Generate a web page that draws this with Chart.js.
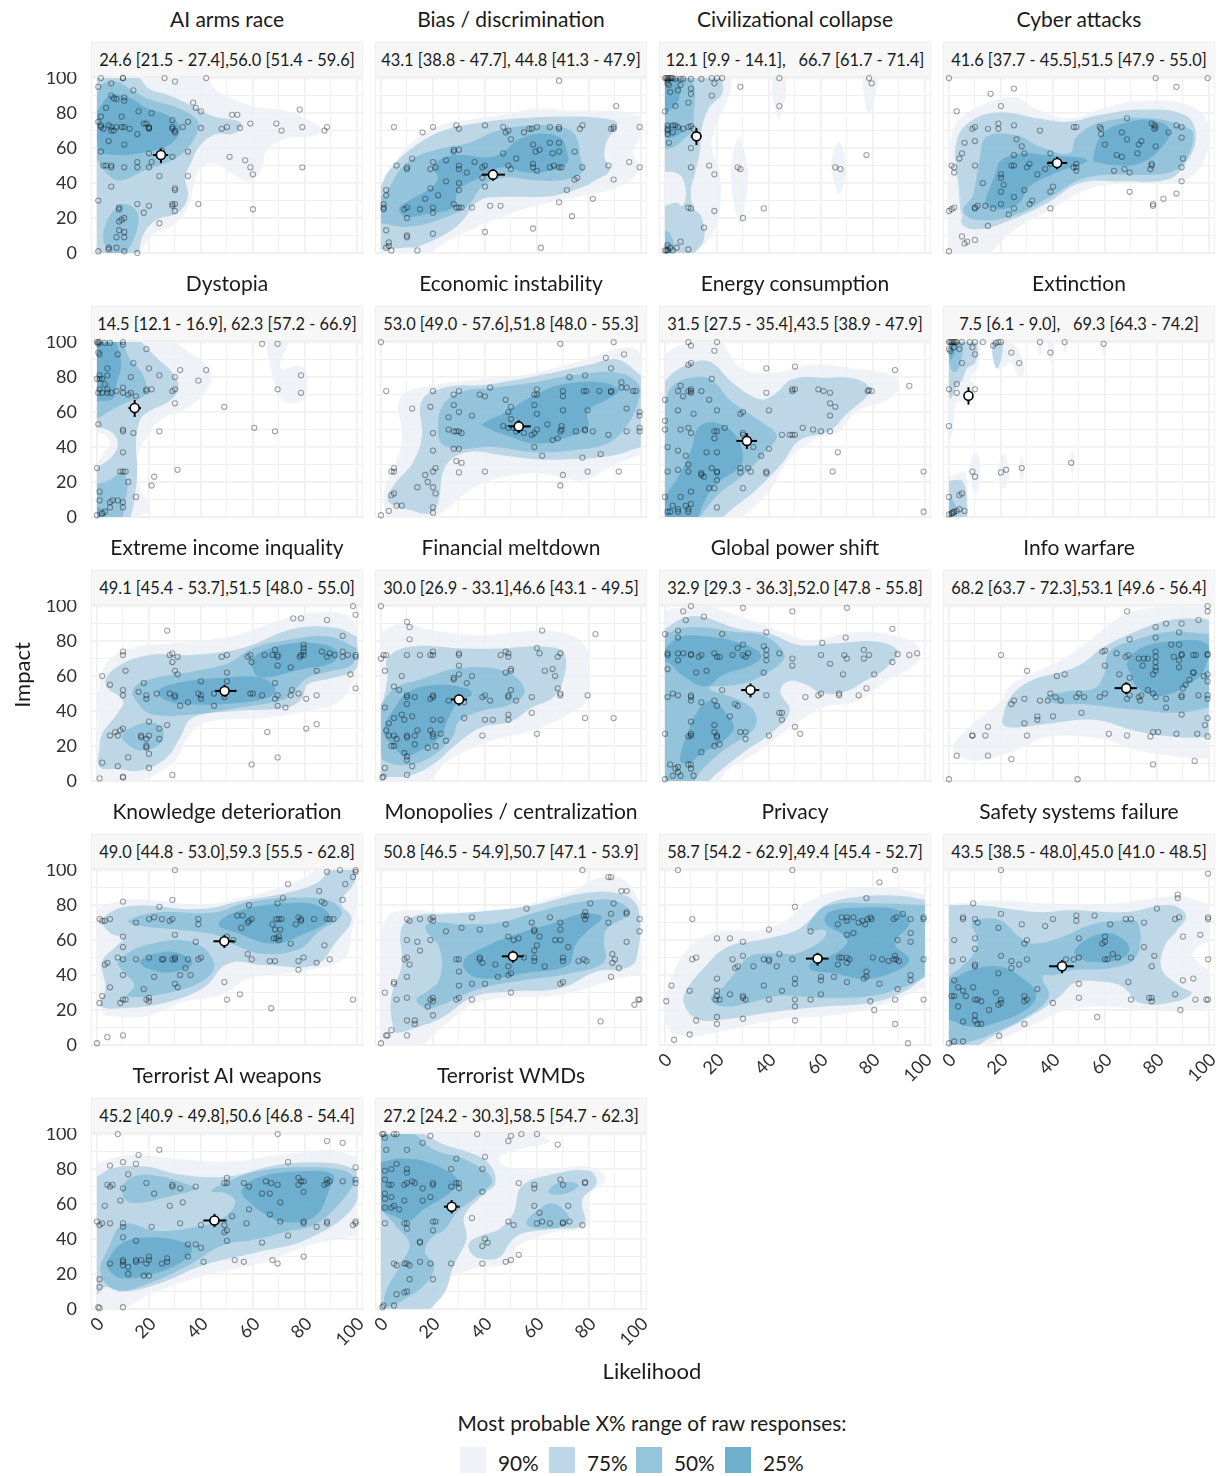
<!DOCTYPE html>
<html>
<head>
<meta charset="utf-8">
<title>Likelihood and impact of AI risks</title>
<script src="https://cdn.jsdelivr.net/npm/chart.js@4/dist/chart.umd.min.js"></script>
<style>
  html, body { margin: 0; background: #fff; }
  #page { position: relative; width: 1222px; height: 1476px; overflow: hidden; font-family: Lato, sans-serif; color: #1a1a1a; }
  #page div, #page canvas { position: absolute; }
  .title { text-align: center; font-size: 21px; line-height: 26px; white-space: nowrap; }
  .strip { background: #f7f7f7; border: 1px solid #f0f0f0; box-sizing: border-box; text-align: center; font-size: 16.4px; line-height: 33px; white-space: pre; }
  .frame { border: 1px solid #f0f0f0; box-sizing: border-box; background: #fff; }
  .axis { font-size: 22px; text-align: center; white-space: nowrap; }
  .legend { font-size: 20.8px; white-space: nowrap; }
  .swatch { width: 26px; height: 26px; }
</style>
</head>
<body>
<div id="page"></div>
<script>
// Panels, in reading order
const categories = ['AI arms race', 'Bias / discrimination', 'Civilizational collapse', 'Cyber attacks',
  'Dystopia', 'Economic instability', 'Energy consumption', 'Extinction',
  'Extreme income inquality', 'Financial meltdown', 'Global power shift', 'Info warfare',
  'Knowledge deterioration', 'Monopolies / centralization', 'Privacy', 'Safety systems failure',
  'Terrorist AI weapons', 'Terrorist WMDs'];

const stripLabels = ['24.6 [21.5 - 27.4],56.0 [51.4 - 59.6]', '43.1 [38.8 - 47.7], 44.8 [41.3 - 47.9]', '12.1 [9.9 - 14.1],   66.7 [61.7 - 71.4]', '41.6 [37.7 - 45.5],51.5 [47.9 - 55.0]',
  '14.5 [12.1 - 16.9], 62.3 [57.2 - 66.9]', '53.0 [49.0 - 57.6],51.8 [48.0 - 55.3]', '31.5 [27.5 - 35.4],43.5 [38.9 - 47.9]', '7.5 [6.1 - 9.0],   69.3 [64.3 - 74.2]',
  '49.1 [45.4 - 53.7],51.5 [48.0 - 55.0]', '30.0 [26.9 - 33.1],46.6 [43.1 - 49.5]', '32.9 [29.3 - 36.3],52.0 [47.8 - 55.8]', '68.2 [63.7 - 72.3],53.1 [49.6 - 56.4]',
  '49.0 [44.8 - 53.0],59.3 [55.5 - 62.8]', '50.8 [46.5 - 54.9],50.7 [47.1 - 53.9]', '58.7 [54.2 - 62.9],49.4 [45.4 - 52.7]', '43.5 [38.5 - 48.0],45.0 [41.0 - 48.5]',
  '45.2 [40.9 - 49.8],50.6 [46.8 - 54.4]', '27.2 [24.2 - 30.3],58.5 [54.7 - 62.3]'];

const meanLikelihood = [24.6, 43.1, 12.1, 41.6, 14.5, 53.0, 31.5, 7.5, 49.1, 30.0, 32.9, 68.2, 49.0, 50.8, 58.7, 43.5, 45.2, 27.2];
const lowLikelihood = [21.5, 38.8, 9.9, 37.7, 12.1, 49.0, 27.5, 6.1, 45.4, 26.9, 29.3, 63.7, 44.8, 46.5, 54.2, 38.5, 40.9, 24.2];
const highLikelihood = [27.4, 47.7, 14.1, 45.5, 16.9, 57.6, 35.4, 9.0, 53.7, 33.1, 36.3, 72.3, 53.0, 54.9, 62.9, 48.0, 49.8, 30.3];
const meanImpact = [56.0, 44.8, 66.7, 51.5, 62.3, 51.8, 43.5, 69.3, 51.5, 46.6, 52.0, 53.1, 59.3, 50.7, 49.4, 45.0, 50.6, 58.5];
const lowImpact = [51.4, 41.3, 61.7, 47.9, 57.2, 48.0, 38.9, 64.3, 48.0, 43.1, 47.8, 49.6, 55.5, 47.1, 45.4, 41.0, 46.8, 54.7];
const highImpact = [59.6, 47.9, 71.4, 55.0, 66.9, 55.3, 47.9, 74.2, 55.0, 49.5, 55.8, 56.4, 62.8, 53.9, 52.7, 48.5, 54.4, 62.3];

const tickValues = [0, 10, 20, 30, 40, 50, 60, 70, 80, 90, 100];
const legendLabels = ['90%', '75%', '50%', '25%'];

// Raw responses per panel: likelihood, impact, likelihood, impact...
const responses = [
[.5,95,1.5,100,10,100,10,100,5.5,97,26,100,30,98,42,100,14,93,5.5,90,6.5,88.5,7.5,88,10.5,89,10.5,87,3.5,83,16,81,21,80,37,86,38,83,40,81,52,79,54,79,78,82,1.5,78,9.5,78,.5,75,1.5,73,1.5,72,2.5,71,4.5,73,5.5,72,7.5,72,9.5,72,10.5,72,12.5,71,5.5,70,6.5,70,15.5,68,18,74,19,74,20,72,20,71.5,20,71,29,76,29,72,29,71,30,70,30,69,33,72,35,75,40,71.5,48,71,50,72,55,71.5,59,74,69,74,71,70,79,72,87.5,70,88.5,72,4.5,64,10.5,62,1.5,58,20,57,25,58.5,29,55,35,58,51,55,57,53,59,49,60,45,79,49,15.5,52,15.5,49,21,52,20,49,2.5,50,3.5,50,5.5,50,5.5,49,10.5,49,24,44,35,44,5.5,38,30,37,30,36,.5,30,15.5,28,20,27,29,28,30,28,29,27,39,28,30,24,18,23,60,25,24,17,8.5,26,8.5,25,10.5,20,9.5,19,8.5,18,8.5,13,10.5,12,7.5,9,10.5,9,7.5,3,4.5,3,4.5,2,.5,1,10.5,1,15.5,0],
[68.5,98.5,90.5,84,5,72,16,69,20,72,29,73,30,71,40,73,47,72,48,69,49,70,55,69,57,71,58,71,60,72,65,72,68.5,72,68.5,71,76.5,71,77.5,73,88.5,71,89.5,72,89.5,71,99.5,72,50,65,58.5,62,65,63,68.5,63,59.5,58,61,59,66,57,68.5,58,74.5,58,28,59,28,58,30,59,47,57,52,54,12,54,20,52,25,53,36,52,6,50,10,49,10,48,19,48,21,49,30,50,30,48,33,46,39,49,40,50,49,50,50,48,58.5,51,58.5,49,60,47,65,49,66.5,50,68.5,49,69.5,49,77.5,49,87.5,50,95.5,52,99.5,49,25,41,30,40,39,43,40,38,30,36,19,37,74.5,42,75.5,43,89.5,42,71.5,36,22,33,17,31,68.5,29,81.5,31,2,36,2,33,1,28,1,26,1,25,9,25,10,26,15,25,20,26,20,23,28,28,29,26,30,26,31,26,35,26,42,27,46,27,10,20,73.5,21,2,13,10,10,10,9,20,11,40,12,58.5,14,3,6,3,4,2,3,4,1.5,14,1.5,61.5,3],
[0,100,.5,100,1,100,1.5,100,2,100,2.5,100,3,100,1,99,1,97,1.5,96,4,99.5,6,99.5,7,99.5,10,99.5,14,99.5,18,100,20,100,22,100,19,97,29,95,44,100,44,84,78.5,100,79.5,97,2,92,5,93,6,96,10,94,10,91,18,90,9,86,4,84,0,81,1,73,1,71,1,70,1,68,3,73,4,73,5,72,7,71,9,72,10,72.5,11,71,3,69,1.5,63,10,60,10,49,17,50,19,45,28,49,29,48,65.5,49,67.5,48,77.5,56,9,26,10,25.5,19,24,30,20,38,25.5,15,14.5,6,6.5,4.5,3,2,3,.5,1.5,0,1.5,1,1.5,3,1.5,9,2,1,4.5],
[0,100,79.5,100,99.5,100,87.5,95,25,94,16,91,20,84,3,81,10,72,9,71,15,71,19,74,19,71,25,73,35,70,48,72,49,72,58,72,58.5,71,68.5,77,66.5,69,78,74,79,73,79.5,72,79,71,84.5,69,87.5,73,89.5,72,89.5,66,58.5,68,68.5,65,60,62,74,64,73,62,79.5,61,72.5,57,64.5,56,66.5,55,90,54,26,65,10,64,6,63,28,61,29,57,25,56,5,57,4,54,1,50,2,49,2,46,10,50,24,50,25,50,30,49,31,51,39,57,39,51,37,48,34,45,20,45,20,43,21,39,13,40,40,38,39,35,29,36,20,35,25,32,49,51,49,49,48,49,49,47,63.5,47,67.5,48,69.5,46,78,50,78,51,77.5,48,89.5,49,89.5,41,69.5,35,87.5,34,82.5,31,78.5,28,78.5,27,32,30,31,28,25,25.5,23,22,20,28,17,25.5,14,27,11,27,10,26,10,25.5,2,26,1,25,0,24,39,25.5,15,15.5,5,9.5,7,6.5,6,5.5,10,7.5,0,1],
[0,100,.5,100,1,100,.5,99,3,99.5,5,99.5,10,100,10,98.5,19,96,63.5,99,69.5,99,.5,94,1,93,8,93,14,88,4,85,20,85,32,84,42,84,24,81,30,80,78.5,81,39,78,13,80,1,81,1,79,4,81,0,79,2,79,3,76,4,73,1,73,.5,71,2,71,4,71,5.5,71,7.5,72,10,74,10,71,12,70,13,71,15,69,19,73,19,72,21,73,29,72,30,73,30,65,69.5,73,78.5,71,49,63,.5,53,10,50,10,49,14,48,24,49,60.5,51,68.5,49,10,37,0,28,9,26,10,26,11,26,12,20,22,23,31,27,21,18,15,11.5,1,14.5,1,9.5,5,8.5,6,9.5,8,9.5,10,8.5,5,5.5,10,5.5,3,3,2,2,0,1],
[0,100,69,99,89.5,100,93.5,93,86.5,91,88.5,85,78.5,81,72.5,80,92.5,77,94.5,74,92.5,74,97,72,98,72,2,72,20,72,28,70,30,72,38,70,40,69,42,74,48,67,60,73,60,70,59,70,70,72,70,69,78,72,79,72,84,72,88.5,72,88.5,71.5,50,63,59,64,12,62,19,63,28,64,30,60,26,57,35,58,49,60,50,56,60,59,70,61,79.5,61,94.5,62,99.5,60,99.5,58,99.5,51,99.5,49,94.5,49,87.5,47,81.5,49,78.5,50,78.5,49.5,75,49,69.5,52,69.5,50,69,49,64,53,60,50,59,48,58,47,55,48,52,49,51,51,49,51,47,52,20,48,26,50,28,49,29,49,30,49,31,48,66,44,68,45,59,40,28,39,30,39,20,38,62,35,77.5,34,84.5,36,29,32,31,31,30,25.5,21,28,20,26,5,28,5,26,4,26,40,26,17,24,18,20,70,24,79.5,26,91.5,26,69,18,14,17,20,17,21,13.5,5,13.5,4,12.5,6,6.5,8,6.5,20,5.5,20,2.5,3,3.5,0,1],
[9,100,10,98,20,100,19,95,9,87,10,88,39,85,50,86,88.5,84,18,79,94,75,6,75,5,72,9,72,10,73,10,71,10,72,14,72,7,69,0,67,17,67,39,71,49,73,50,73,49,72,59,73,61,72,63.5,71,78,72,78.5,72.5,79.5,72,63.5,65,65.5,63,63.5,58,29,59,30,60,40,61,20,61,5,61,11,59,0,55,0,50,6,50,9,51,10,48,19,49,20,49,23,51,19,45,30,48,30,47,45,47,48,47,49,47,50,47,53,51,57,50,60,49,63.5,49,34,40,40,39,37,35,66.5,37,1,40,5,38,16,37,20,37,8,35,9,30,9,26,5,27,1,26,18,28,20,26,20,25.5,29,28,29,25.5,32,28,33,26,39,26,39,25,64.5,26,99.5,26,14,25,15,23,14,24,20,21,17,16.5,19,16.5,30,16.5,10,14.5,0,11.5,6,11.5,3,6.5,8,6.5,10,7.5,9,4.5,20,5.5,1,3,2,3,5,4.5,5,3,9,3,99.5,3],
[0,100,.5,100,1,100,1.5,100,2,100,2.5,100,3,100,5,100,8,100,10,100,13,100,18,99.5,19,100,20,100,17,98,0,96,.5,95,2,97,4,96,9,97,10,93,5,88,24,94,27,88,35,100,39,94,44.5,100,59.5,99,3,76,0,73,3,71,10,73,0,52,9,26,10,23,20,25.5,22,27,28,28,47,31,0,11.5,4,12.5,5,13.5,4,4.5,6,3.5,3,3.5,2,3,1,2,0,1.5,1.5,2.5],
[98.5,100,99.5,95,75.5,93,78.5,93,88.5,92,27,86,94.5,83,79.5,78,79.5,76,79.5,74,10,74,10,72,28,72,29,73,31,71,29,68,48,71,50,72,58,71,59,72,59.5,68,64.5,72,67.5,72,68.5,75,69.5,72,69.5,71,78,71,78.5,72,79.5,72,86.5,74,88.5,71,89.5,73,91.5,72,94.5,74,94.5,71,96.5,72,99.5,72,99.5,71,69.5,66,74.5,65,84.5,63,97.5,61,99.5,53,11,63,2,60,30,63,31,61,50,62,50,57,40,57,5,55,18,56,68.5,56,10,52,10,49,16,51,19,49,19,47,23,50,28,50,30,49,30,48,39,50,40,49,40,47,45,50,49,50,49,48,59,50,60,50,63.5,49,69.5,49,68.5,47,75,52,74.5,49,77.5,50,80.5,47,84.5,49,32,43,35,45,45,43,69.5,43,72.5,42,20,34,27,32,24,30,10,30,9,29,7,28,8,26,5,26,17,26,17,25,20,26,19,24,24,24,19,20,19,19,20,15.5,12,13.5,2,10.5,8,8.5,20,7.5,1,1.5,10,2.5,10,2,29,3.5,65.5,28,80.5,30,84.5,32.5,69.5,13.5,59.5,9.5],
[0,100,10,91,11,88,11,81,62,86,82.5,84,20,74,20,72,19,72,2,72,1,72,0,70,10,72,15,72,30,73,30,72,46,72,48,74,49,73,49,71,60,76,61,73,69,73,68,71,1.5,63,8,60,30,66,30,61,28,59,28,58,35,60,33,56,50,64,50,63,48,62,63,63,66,64,67,60,68,53,5,54,7,52,10,49,10,48,13,48,10,44,20,49,20,48,19,47,26,46,30,47,30,46,32,45,39,48,40,49,42,46,49,49,49,48,50,52,52,46,58,48,69,50,69,49,79.5,49,1.5,42,8,38,12,37,3,33,5,36,9,35,20,35,23,35,32,36,40,35,43,35,49,38,49,35,58,39,78.5,36,89.5,36,2,29,3,26,5,26,6,24,10,26,10,25,14,29,13,26,19,29,20,27,20,25.5,23,27,25,23,13,21,4,20,5,20,18,19,21,20,9,16,10,14,10,12,39,26,60,27,12,8.5,1.5,7.5,1,2.5,.5,2,10,3.5],
[10,100,7,97,30,99,49,97,70,99,15,94,8,92,87.5,87,5,86,0,84,5,82,22,84,39,85,60.5,79,69.5,82,30,78,28,76,38,77,39,75,39,72,39,69,1,73,1,72,5,73,7,73,5,69,10,72.5,10,72,13,71,14,72,19,73,20,71,21,71,26,72,30,72,31,71,32,73,44,73,49,70,49,66,60,72,69,72,70,70,63.5,67,76.5,75,76.5,70,78.5,72,89.5,72.5,87.5,68,94,72,97,73,1,64,12,62,16,63,38,62,68.5,61,80.5,61,77.5,53,22,52,1,48,3,50,5,49,10,49,10,48,10,46,14,45,19,46,20,43,27,44,28,43,39,49,54,48,59,49,60,50,67,50,67,49,74.5,49,44,39,45,39,25,37,45,35,10,34,19,32,0,27,10,27,10,26,9,25.5,19,28,20,26,20,25,29,28,31,28,31,24,40,26,50,31,52,27,19,20,21,21,14,16.5,9,9.5,10,9.5,10,7,2,9.5,4,7,5,8,5,5,6,3,3,3,11,3,0,1],
[68.5,97,99.5,100,99.5,97,96,92,79.5,88,83.5,90,89.5,90,88.5,85,69.5,81,79.5,82,85.5,78,88.5,78,20,72,59,74,60,74.5,64.5,73,68,71,69,72,73,70,75,70,79.5,74,79.5,71,79.5,68,79.5,65,79.5,63,76.5,70,86.5,71,88.5,69,89.5,72.5,89.5,72,94,72,95,72,99.5,72.5,99.5,72,60,66,74.5,66,88.5,65,94,62,94,62,30,63,41.5,60,44.5,61,65.5,61,69.5,59,78.5,61,92.5,58,98,60,99.5,61,99.5,57,91,55,90,53,76.5,52,25,46,29,47,35,46,38,46,39,50,41,48,43,46,49,48,50,50,52,48,58,48,60,50,68.5,47,69.5,49,73,48,74,49,73.5,46,78.5,50,79.5,48,83.5,47,89.5,49,89.5,48,96,49,99.5,49,99.5,47,24,44,83.5,42,51,39,40,37,34,37,34,35,29,33,15,31,89.5,38,99.5,36,98.5,32,9,26,9,26,14,26,30,26,61.5,27,68.5,26,78.5,28,80.5,28,77.5,25.5,87.5,27,95.5,27,99.5,25.5,3,14.5,15,14.5,24,12.5,78.5,9.5,94.5,11.5,0,1,49.5,1],
[30,100,88.5,99,93.5,100,99.5,99,99.5,100,98.5,96,95.5,92,73.5,92,85.5,88,10,82,29,83,71.5,84,86.5,82,87.5,81,94.5,83,69.5,81,58.5,80,24,79,1,72,2,71,3,71,5,72,15,70,20,72,22,73,25,72,28,71,29,72,39,72,39,69,54,74,56,74,58,70,58.5,71,59.5,72,55.5,67,67.5,69,69,72,70,72,71,72,68.5,66,70.5,66,77.5,73,78.5,72,78.5,71,76.5,69,83.5,72,88.5,72,89.5,72,91,72,68,61,69,61,70,62,70,60,74.5,58,30,63,10,62,50,62,52.5,60,38,59,10,56,87.5,57,8,50,10,49,15,49,20,50,25,49,25.5,49,29,49,30,50,30,49,35,49,39,49,40,50,3,46,4,47,34,44,10,40,22,39,32,40,36,40,58,52,59.5,49,66.5,48,68.5,48,77.5,48,79.5,50,84.5,47,89.5,49,77.5,43,5,33,18,32,30,35,31,33,49,36,55,29,2,28,1,24,9,24,10,26,11,26,19,26,20,27,20,25,50,26,67,21,98.5,26,4,4.5,10,5.5,0,1],
[77.5,100,87.5,96,88.5,96,92.5,88,94.5,88,80.5,81,89.5,81,56,78,78.5,76,78,74,79,74,78.5,72,88.5,75,94.5,76,94.5,75,10,72,11,71,15,72,19,72,20,73,20,71,35,73,48,69,58,70,65,73,69,70,87.5,70,99.5,72,99.5,65,25,65,31,67,38,66,59,66,59,65,69,66,61,62,49,62,51,60,53,61,67,60,69,60,60,57,59,54,72,56,94.5,59,10,60,14,59,19,60,15,54,9,49,10,50,11,46,29,49,30,49,38,50,38,49,39,47,44,46,50,50,49,45,55,50,59,50,59,48,70,50,70,48,76,48,78,49,79,48,89,52,89,47,90,49,91.5,44,30,42,63,45,49,40,50,41,45,39,88.5,39,10,39,5,36,5,35,30,34,35,35,40,35,69,35,70,36,1.5,30,6,26,10,27,19,26,20,27,20,25,29,26,30,27,35,26,50,30,18,22,20,17,99.5,26,99,26,97.5,23,10,14,13,14,13,12,84.5,13.5,4,8.5,2,5.5,2.5,5.5,10,5.5,0,1],
[5,100,49,100,88.5,100,82.5,93,77.5,84,50,79,10.5,72,68,73,70,73,70,71,72.5,73,76,71,78,72,79,73,79.5,72,66.5,69,74.5,70,77,69,88,72,89,73,91.5,75,94.5,72,99.5,73,99.5,72,40,66,56,65,70,63,72.5,64,94.5,64,94.5,59,89.5,60,20,61,25,61,30,59,10.5,49,12,50,26,49,30,51,28,45,27,44,34,45,38,49,40,49,40,48,44,52,43,45,49,49,59,49,67,50,68,50,70,50,71,49,70,47,66.5,46,80,50,83.5,49,86,48,88,49,88.5,51,89,49,90,48,99.5,49,60,39,60,37,65,39,70,36,77.5,42,77.5,39,76.5,38,82.5,35,94.5,40,94.5,37,2.5,34,20,38,50,38,50,35,38,34,45,31,9.5,31,20,31,20,28,19.5,26,21,26,25,29,30,28,30,27,31,26,40,26,50,26,50,22,56,26,60,29,89.5,32,88.5,26,79,25,99.5,26,.5,25,80.5,20,20,16,20,12,12,14,30,15,50,14,88.5,12,9.5,6,3.5,3,93.5,1],
[20,100,99.7,98,88,86,88,84,9.3,81,80,78,5.4,73,5.4,72,10,72,11,70,20,75,40,72,49,74,49,71,56,74,28,69,37,68,62,69,68,72,70,72,75,70,87,72,88.5,73,99.7,73,99.7,72,19,67,96.7,63,90,62,2,60,10,61,30,60,29,58,50,61,60,62,60,59,59,58,10,55,75,56,20,51,79,51,5.4,49,1.3,48,10,46,10,45,24,48,30,49,27,46,24,44,45,49,48,49,50,50,60,49,61,49,63,52,65,50,70,50,78,45,99.7,49,19,41,2,37,90,37,94,38,69,36,50,35,3.5,33,5.4,31,6.5,28,9.3,33,1,28,2,28,10,26,11,26,12.4,25,18,30,20,26,20,24,19,23,29,28,30,26,29,25,34,32,40,24,50,27,70,26,77,27,78,27,78,25,87,29,94.8,26,99.7,26,99,26,3.5,22,15.4,20,89,20,10,17,10,14,11,12,12.4,12,5.4,13.4,29,12,57,16,19.3,5.3,0,1,2,2,5.4,2],
[8,100,69.5,100,88.5,96,94.5,95,24,91,16,88,10,84,15,83,5,82,73.5,84,99.5,81,12,77,50,75,4,71,6,71,5,70,10,69,19,72,29,71,29,70,32,69,38,70,49,72,50,72,56.5,72,58.5,70,65,73,67,72,69.5,71,77.5,75,78.5,73,77.5,71,79.5,73,87.5,71,88.5,74,88.5,72,89.5,73,94.5,73,99.5,74,99.5,72,22,66,63.5,66,66.5,66,79.5,67,9,62,3,59,28,59,33,61,70.5,61,58.5,57,66.5,54,52,53,0,50,1,48,2,49,5,49,10,49,10,47,21,47,32,49,40,48,49,48,50,45,49,44,57.5,49,70.5,50,79.5,50,79.5,49,84.5,47,88.5,50,88.5,49,98.5,48,99.5,50,99.5,49,73.5,42,10,41,15,39,35,37,38,37,40,35,50,39,63.5,38,20,30,20,28,27,29,27,27,35,30,15,28,17,28,15,27,10,28,10,27,10,25,5,26,19,26,25,26,12,24,12,20,18,19,20,19,41,27,53,28,56.5,27,67.5,28,69.5,26,79.5,30,1,17,1,12.5,.5,1,1,.5,10,1],
[.5,100,1,100,5,100,6,100,1.5,98,19,99,16,95,37,100,50,99,49,96,54,100,60,100,68,94,2,91,10,91,29,86,40,87,6,83,4,80,1.5,79,10,80,10,78,27,80,39,80,1.5,74,4,71,3,71,9,71,10,72,12,73,13,72,16,69,20,72,20,71,27,70,29,72,30,72,30,69,39,67,53,72,59,71,59,69,69,74,70,71,78.5,72.5,78.5,72,1.5,66,4,64,1.5,63,9,62,16,62,19,64,4,58,5,59,7,57,1.5,58,59,59,72,59,61,55,1.5,49,9,49,10,49,10,46,20,50,21,50,20,45,35,52,49,50,51,48,60,49,62,50,65,49,70,49,70,49.5,72.5,50,77.5,48,15,38,15,38.5,40,40,41,38,39,36,53,31,50,28,48,27,5,26,6,25,9,26,10,26,11,25,15,27,19,26,27,26,39,26,11,17,20,17,10,10,9,9.5,6,8.5,.5,1,1,2,5,2]
];

// Density regions per panel, one or more closed outlines each, outlined by eye
const band90 = [
[[-1,-1,-1,101,42,101,47,92,60,84,73,81,84.5,73.5,86,70,83,67,72,65,65,58,64,51,61,43,58,41,52.5,45,45,51,40,49,37,38,36,30,30.5,17,22,11,18,4,16.5,-1]],
[[-1,-1,-1,38,8.5,58,21,72,34,76,47,79,59,82.5,73,81.5,91,81,101,78,101,66,97,58,101,49,96,41.5,85.5,35,75,32,62.5,28,49.5,22.5,37,15,24,5.5,19,-1]],
[[-1,-1,-1,101,26,101,24.5,89,20,74,18,61,21,45.7,21.5,36,20.5,19,17,8,11.5,-1],[41.5,101,46.5,101,46.5,90,45,82,44,76,42.5,82,41,92],[76,101,82,101,81,90,79,80,78,80,76.5,90],[28.5,66,31,55,32,42,30.5,25,29,16,27,25,25.5,42,26,55],[67,63.5,69.5,52,69,41,67,33.5,65,41,64,52]],
[[-1,19,.5,45,2,72,12,84,25.5,89,32.5,83,46,77,60,83,74,87,91,85,99,76,101,60,95,45.7,86.5,40,68.6,40,53,36,39.5,25,25.5,13.6,18.6,4,16,-1,-1,-1]],
[[-1,-1,-1,31,3.3,38,5,42,3.3,46.6,-1,48.5,-1,101,30,101,36.5,93,43,85,43.5,76,37,64.5,24,55,18.6,44,16,36,16,19,20,4,14.5,-1],[65,101,74,101,70.7,89,71,85,79,86,81,76,78.5,66.4,71.5,66.4,68,78.7,66,91]],
[[1,13.6,5.3,28.7,8,45.7,7.4,68.3,19,75,38.6,78.7,59.5,82.5,77.5,89.7,90,95.7,97,96.6,101,93,101,36,91,30.6,77.5,21,69,23,58,25,38.6,19,24.7,4,21,-1,2,-1]],
[[-1,-1,-1,93,4.5,97.5,11.5,101,22,101,29.5,85,43,82.5,56,87,72.5,85,88,80.5,90.3,74,85,66.4,74,60.7,67,49,57,43.8,47.5,32.5,40.5,15.5,30,-1]],
[[-1,101,12.5,101,11,85,8,80,10,74,7,66,3,65,2,55,1,46,-1,45],[-1,-1,-1,23,6,26,7,19,7.5,-1],[16,101,24,101,28,92,29,82,27,80,24,88,21,86,19,84,17,92],[34,101,36,101,35.5,93,34.5,93],[38,101,40.5,101,40,88,39,88],[44,101,45.5,101,45,94,44.5,94],[59,101,60.5,101,60,91,59.5,91],[11,36,12,28,11,14,9.5,14,8,28,9.5,36],[21,36,23,27,22,17,20,17,19,27],[28,35,29,27,28,21,27,27],[47.5,38,48.5,31,47.5,25,46.5,31]],
[[-1,8,.5,38,-1,47.5,3.3,66.4,13,76,31,78.7,53,83.4,73,93,89.5,96.6,98,93,101,83,101,61,93.5,45.7,81,40,64.4,36,42,33.4,34,23,31,13.6,23,4,17,-1,-1,-1]],
[[-1,-1,-1,85,8,90,20.5,86,38.6,83.4,59.4,86,73,83.4,79,76,79.6,64.5,80,47.5,72,38,58,28.7,43,23,26,11.7,20,2,18,-1]],
[[-1,-1,-1,97.5,8.6,101,17,101,31,93,45,85,56,80.5,72.5,85,88,83.4,98,76,96,66.4,85,57,74,45.7,61.4,42,50,32.5,36.4,17.4,24,6,21,-1]],
[[1.4,19,9,32.5,20,45.7,24,55,39.5,66.4,50.5,76,67,94.7,81,99.4,101,101,101,12.6,85,14.5,71.4,18,59,24,38,25,25.5,17.4,11.7,11.7,4.7,13.6]],
[[2,19,.5,45.7,-1,78.6,13,83.4,39.5,80.5,56,84.3,77,93.8,84,101,101,101,101,79,98,64.5,95,49.4,78,42,58.9,38,47.8,28.7,34,25,18.6,16.4,6,16.4]],
[[-1,-1,-1,66,5,76,24.7,76,38.6,76,56.7,80.5,73.3,88,84.5,95.7,94,93.8,101,80.5,101,40,91.4,38,69,28.7,38.6,25,24.7,11.7,16.4,-1]],
[[1.4,8.9,.3,27.8,8.4,54,19.7,64.6,36.5,65.6,46.4,71,56,82.6,70,89,85.7,90,101,86,101,33,81.5,22,61.8,16.4,43.5,14.6,22.5,8,8.4,5]],
[[-1,-1,-1,80.7,20,82.6,39.8,80.7,61,80.7,82,84.5,89,85,101,80.7,101,58,97.6,58,94,52.4,96.2,46.7,101,43,101,21,82,19.3,59.5,22,45.4,20,34,12.7,20,3.2,15.8,-1]],
[[-1,-1,-1,83.4,13,88,29.7,86,50.5,84.3,70,88,89.4,91,101,87,101,42,81,36,64.4,26.8,40.8,19,22.8,9.8,13,2.3,10,-1]],
[[-1,-1,-1,101,61,101,65,95.6,52.5,91,45.6,87,47,82.5,54,79.6,65,79.6,80.3,81.5,86.5,74,80,64.5,79.6,47.5,66.4,43.8,52.5,36,50,26.8,36,23,24.7,15.5,19,2,17.8,-1]]
];
const band75 = [
[[-1,-1,-1,101,16.5,101,20,94,28,90,38,83,45,78,55,75,55,71,52,68,46,68,40,62,36,51,34,43,35,32,31,23,23,19,18,11,16,-1]],
[[-1,2,-1,38,3,47,12,60,24,70,38,74.5,53.5,77,73,78,89.5,76,91,73,87,64,86,55,88,47,83,42,78,38,67.5,33,60,32,47,32,38,30,29,15,15,4,9,3]],
[[-1,101,22,101,22,91,17,83,14,70,13.5,59,11.5,45,10,36,11,26,14,21,15,8,11.5,-1,-1,-1,-1,27,4.5,28.7,6.5,26.8,8,32,7,42,4.5,45.6,-1,46.6]],
[[5,25,3,45.7,3,64.5,9,76,20,80.5,34,77,46,75,57.5,78.7,74,82,91,78.7,95,66.4,91,51,84,42,66,41,50.5,40,38,28.7,24,19,11.7,13.6,5,16.4]],
[[-1,-1,-1,28,6,35,8,42,6,48,-1,52,-1,101,17,101,23,91,29,82.5,31.4,74,28,66.4,18.6,59,16,53,15,40,15.5,27,14.4,10,13,-1]],
[[2.5,10,5.3,19,12,30.6,15.7,45.7,15.7,66.4,24.7,74,41,75.8,66,82.5,80,87,91,90,101,81,101,40,88.6,35,73,33,59,33,48,35,33,37,24.7,28.7,22,8,19,2,11,4,4.6,7]],
[[-1,-1,-1,77.7,4.5,84,12.8,89.4,18.3,88,26,76.8,36.4,67.4,42,70,49,78.7,61.4,79.6,74,78.7,78.8,72,70,59,63,49,51.7,43.8,45,30.6,35,15.5,25.3,4,22.5,-1]],
[[-1,101,10.5,101,11,95,10,88,7,85,5,78,3,75,1,68,-1,68],[16.5,101,21,101,20,90,18.5,85,17,90],[-1,-1,-1,21,5.5,20,7,2,7,-1]],
[[1,8,1,19,2,27,7.5,38,10,45.7,3.3,55,7,64.5,20,72,36,72,56,76,75.5,87,92,87.5,101,82.5,99.8,64.5,91,59,81,55,79,47.5,73,42,53,40,36.7,36,32,25,27,13.6,17,6,7.5,7]],
[[-1,2,-1,40,2.5,59,2.5,70,11,76.8,32,75.8,45.5,75.8,63.6,76.8,70.5,73,70,57,66,47.5,58,42,50,34,38.6,30.6,29,21,20.5,10,11,3,4,2.3]],
[[-1,-1,-1,87,7,93,14,94,28,87,40.5,84,51.7,77.7,65.5,78.7,82,79.6,89.5,74,85,64.5,78,58,68,50.4,60,50.4,54.4,55,47.5,57,44.4,51.3,48,40,42,28.7,29.4,15.5,19.7,4,17,-1]],
[[21,38,23.5,47.5,31,57,43.6,62.6,50.5,66.4,59,76,70,84.3,85,92,98,92.8,101,92,101,25,88,25,71.4,28.7,56,35,36.7,32.5,25.5,30.6,21,32]],
[[3.3,21,1.2,23,3.3,32.5,2,47.5,7,56,10,60.7,4.7,64.5,2,72,13,79.6,39.5,77.7,56,82.5,73,87,85,93,89,101,101,101,99,92.8,94,81.5,98,72,92,59,84,45.7,64.4,45.7,50.5,46.6,40.8,32.5,22.8,23,8.9,21]],
[[5,8,3.9,27,8,45.7,7.8,66.4,13.6,74,24.7,75,41.4,76.8,58,79.6,79,87,93,86,99,77.7,98.3,49.4,94,43.8,83,42,69,32.5,49.7,30.6,35.8,27.7,23.3,15.5,13.6,10,6.7,7]],
[[7.7,22,7.7,30,15.4,44.8,24,56,36.5,60,49,64.6,54.8,70,61.8,80,73,84.5,90,85.4,101,83,101,39,91.3,30,78.6,24,61.8,22,43.5,19.3,22.5,14.6,12.6,14.6]],
[[-1,-1,-1,80,11.6,80,34,76,46.8,77,68,76,85,80,91.2,74,87.7,65.6,82.8,56,82,43,89,33.5,93.4,29.7,87.7,25,73.6,24,66.6,33.5,58,36.3,48.2,35.3,42.6,27.8,31.3,16.4,15.8,4.2,11.6,-1]],
[[-1,8,-1,75.8,6,80.5,18.6,81.5,32.5,76.8,50.5,75.8,70,82.5,91,83.4,101,79.6,99,59,81,40,61.7,32.5,40.8,25,25.6,15.5,10.3,9.8,3.3,12.6]],
[[-1,-1,-1,101,16.4,101,24.7,93.8,33,90,41.4,83.4,44,72,38.6,64.5,32,53,33,42,32,36,30,30.6,27.5,23,24.7,10,19,-1],[34,38,38.6,42,45.6,45.7,51,55,54,70,65,76.8,80,79,83,72,77.5,62.6,78,48.5,66.4,45.7,54,43,49.7,38,45.6,29.6,38.6,28.7,34.4,32.5]]
];
const band50 = [
[[-1,53,-1,92,2.5,97,7.5,98,14,92.5,20,88,31,83,38,77,39,72,36,62,29,53,18,47,9,41.5,4,45],[9.5,28,14.5,25.5,16,19,14,7.5,11,-1,5,-1,2.5,7.5,3.5,17,6.5,24.5]],
[[-1,17,-1,32,3,37,7,47,13.5,55,24,60,34,63,43,69,53,72.5,67.5,72.5,74.5,68,77,53,78,47,71,42,60,41.5,47,43,39,38,34,28,26,21,11,15]],
[[-1,101,10,101,11.5,92.8,11,78,10.7,70,8,66,3.7,60.7,-1,59],[-1,-1,-1,13.6,2.4,10,3.7,2,3,-1]],
[[5.4,24,9,32,11.7,53,14.4,66.4,25.5,67.4,35,60.8,46.4,57,49,66.4,59,75,78,77,91,72,94,68,91,53,84,45.7,61.7,44.7,50.5,42,39.5,32.5,24,21,10,19]],
[[-1,101,10,101,12.4,91,18,80.5,18.6,70,13,66.4,7.5,62.6,-1,56],[-1,-1,-1,19,4.7,21,9.6,26,11.7,19,11,10,10,-1]],
[[22,49,23.3,62.6,30,71,43,74,58,76.8,76,81.5,91,82.5,99,76,99,66,94,51,87,42,73,38,59,37,43,40,29,39,23.3,42]],
[[-1,-1,-1,66.4,3,75,10,79.6,17.6,78.7,25.3,66.4,36.4,55,43,46.6,39,38,31,25,21,13.6,15.5,4,13.5,-1]],
[[-1,101,5.5,101,5,92,3.5,84,1.5,83,-1,88],[-1,-1,-1,10,1.5,9.5,3,4,3,-1]],
[[13.7,52,20,58,36.7,62.6,50.5,67.4,60,76,73,80.5,89.5,82.5,101,76,98,66.4,89.5,62.6,81,59,74,48.5,70,45.7,55,42,36.7,38,21.4,38,16,44],[9.6,26,14.4,31.5,21.4,33.4,25.6,28.7,24,21,17.2,17.4,11.7,21]],
[[-1,15.5,-1,43.8,5.3,53,15,58,30,64.5,48.3,62.6,55.3,51.3,49.7,43.8,38.6,40,30,34,27.5,25,19,13.6,9.4,9,1,11.7]],
[[-1,-1,-1,84.3,10,88,26.7,85.3,39,82.5,46,72,43,65.5,31,56,17,53,29.4,45.7,35,38,33.6,28.7,22.5,17.4,14,6,11.4,-1]],
[[37.4,48.5,46.4,51.3,56,53,59.6,60.7,61.7,74,71.4,80.5,85,85.3,101,84,101,42,88,39,70,41,53.3,43.8,39.4,44.7]],
[[12,71,22.8,75.8,45,75.8,57.5,81.5,78,84.3,91,81.5,94,74,85,64.5,78,55,64.4,52,53.3,57,46.4,62.6,34,65.5,15.8,68.3],[8.2,47.5,18.6,57,36.7,58.9,45,47.5,42,38,29.7,30.6,11.7,27.7,14.4,34.3,10,42]],
[[13.6,25.8,17.8,30.6,22.6,38,22.6,55,17,66.4,19,70,33,69,45.6,70,59.4,75.8,77.5,82,90,82.5,95.6,75.8,87,66.4,85.8,59,85.8,47.5,73,41,55,37,38.6,32.5,23.3,23,17.8,21]],
[[17.6,26.8,22.5,33.5,28,43,32.3,50.5,42,52.4,50.5,52.4,60.4,60,61.8,65.6,54.8,65.6,56.9,73,63.2,80,78.6,81,101,80,101,39,92.7,33.5,78.6,28,61.8,27,43.5,28,32.3,24,22.5,22]],
[[-1,39,8.7,50.5,11,60,8.7,69.4,11.6,72,20,71,27,62,32.7,58,44,62,53.9,68.4,65,71,72.6,70,72,50.5,62.3,44,48.2,43,41,40,36,39,38.4,27.8,30,16.4,15.8,6,4.5,.4,-1,-1]],
[[9.6,67.4,13,75,22.8,76.2,35.3,71,38,68.7,28.3,64.5,13,60.7],[44,67.4,50.5,73,61.7,78.7,78.3,81,95,79.2,101,74,93.6,60.7,84,48.5,71.4,43.8,61.7,40,47.8,36,35.3,25,21.4,15.5,7.5,10.7,1.4,21,4.7,36,10.3,48.5,22.8,44.7,36.7,46.6,47.8,51.3,53.3,60.7,49.2,66.4]],
[[-1,57,-1,101,13,101,20.5,91,33,85,42.8,74,37,64.5,29,55,24.7,45.7,19,40,17,32.5,20.5,25,17.8,15.5,9.4,6,2.5,1.3,1.4,8,7.4,25,11,37,6.7,45.7],[64.3,67.4,69,72.5,76,71,72,66.4,66.4,65.5],[56,50.4,60.8,57,65.7,60.4,71.3,55,72,48.5,62,46,56.7,47.5]]
];
const band25 = [
[[-1,64,-1,81,5,90,11.5,89.5,19,83,28,78,32,71,28,62,18,57.5,6,56,1,58.5]],
[[7,25.5,12,31,19,37,22,43,20,49,25,55,32,56,40.5,54.7,47,57.5,52,64,60,68,69,66,71.5,58,71.5,51,65,47,56,46,47,49,38,43,30,36,27.5,26,18.5,22.6,9.5,20.7]],
[[-1,101,6,101,6,93,4.5,85,1.6,81.5,-1,80],[-1,74,4,74,7,70,3,66,-1,66],[-1,-1,-1,6,1,5,2.5,1,2.5,-1]],
[[13.7,28.7,18,45.7,20,53,28.3,57,36.7,56,53.3,53,41,45.7,31,38,27,28.7,20,25,14.4,27],[55.4,53,59,68.3,67,74,78,76,85,70,81,59,73,51,64.4,50,57.3,51.7]],
[[-1,101,7.5,101,9.3,87,7.5,76,6,67.4,2,66.4,-1,66],[-1,-1,-1,6,3.3,3,3.3,-1]],
[[39,53,47,59,59.4,70,70.5,76,86,76.8,91.4,72,86,66.4,79.6,60.7,79.6,51,72,45.7,59.4,42,48.3,46.6,41.4,50.4]],
[[-1,-1,-1,11.7,5.8,25,10,38,12.8,51,19,54,26.7,47.5,30,36,28.8,28.7,19.7,19,15.6,10,12.8,-1]],
[[-1,101,3,101,2.5,96,1,90,-1,92],[-1,-1,-1,3,1,2,1.5,-1]],
[[23.5,51.3,31,56,48,59,63,59,68.6,53,67,48.5,55,44.7,36.7,43.8,27,45.7],[59.6,70,68.6,76.8,81,79,92,75,91,68,78,63.6,63,59,60,63.6]],
[[1,28.7,5.3,42,11,51.3,22,55,33,53,35,49.4,30,45.7,26,36,22.6,25,15,17.4,9.4,14.5,3.9,21]],
[[-1,76,5.8,82.5,17,82.5,29.4,78.7,37,72,33.6,66.4,22.5,60.7,15.5,54,7,60,1.7,67.4,-1,68],[13.5,42,18.3,45.7,23.9,38,26.4,30.6,22.5,23,14,15.5,8.6,10,5.8,11.7,8.6,27]],
[[68.6,68.3,74,76,84,79.6,99,78.7,98.5,64.5,92,55,81,48.5,72.8,53,70,60.7]],
[[46.7,69,54.7,76.8,72.8,81,85.3,79.6,89.4,72,78.3,62.6,67.2,58,54.7,63.6],[16.5,47.5,22.8,52.3,31,52.8,36.7,46.6,29.7,41.9,21.4,42.8]],
[[31.7,47.5,37,54,52.5,63.6,65,69,77.5,75,85,73,79,64.5,74.7,57,72,45.7,55.3,41,42.8,38,34.4,40]],
[[56,46.7,63.2,50.5,70,58,68.8,62.8,61.8,69.4,63.2,76,75.8,78.5,90,77,94,69.4,88.5,58,94,48.6,88.5,42,77.2,37.8,64.6,41,56,43]],
[[-1,36.3,8.7,43,20,44.8,28.5,38,33.4,29.7,31.3,22,20,13.6,8.7,10.4,-1,14.6],[48.2,53.3,52.5,60,61,64,67.3,60,69.4,54,65.2,48.6,53.9,47.6,49.6,50.5]],
[[55.6,67.4,61.7,75,78.3,78.7,90.8,76.8,89.4,68.3,84,53.2,72.8,49.4,65.8,53.2,58.9,60.7],[4,26.8,10.3,38,21.4,41,33.9,38,36.7,34.3,32.5,26.8,21.4,20,10.3,17.4,5.4,21]],
[[-1,56,-1,84,8,86,19,83.4,30,73,24.7,64.5,16.4,57,10.8,50.4,5.3,53]]
];

// Layer colours: painted slightly see-through so the grid shows faintly
const bandFills = ['rgba(236,241,247,.85)', 'rgba(181,210,229,.85)', 'rgba(141,194,217,.85)', 'rgba(103,171,204,.85)'];
const legendColors = ['#eff3f8', '#bed7e8', '#94c5db', '#6eafce'];

const plotLefts = [91, 375, 659, 943];
const plotTops = [76, 340, 604, 868, 1132];
const plotW = 272, plotH = 177;
const page = document.getElementById('page');

function addDiv(cls, text, left, top, width, height) {
  const el = document.createElement('div');
  el.className = cls;
  if (text) el.textContent = text;
  el.style.left = left + 'px';
  el.style.top = top + 'px';
  if (width) el.style.width = width + 'px';
  if (height) el.style.height = height + 'px';
  page.appendChild(el);
  return el;
}

function toPoints(flat) {
  const pts = [];
  for (let i = 0; i < flat.length; i += 2) pts.push({x: flat[i], y: flat[i + 1]});
  return pts;
}

// Closed outline: vertices on the 0-100 limits are held there and doubled so the curve stays inside
function toRing(flat) {
  const pts = [];
  for (let i = 0; i < flat.length; i += 2) {
    const x = Math.min(100, Math.max(0, flat[i]));
    const y = Math.min(100, Math.max(0, flat[i + 1]));
    pts.push({x: x, y: y});
    if (x === 0 || x === 100 || y === 0 || y === 100) pts.push({x: x, y: y});
  }
  return [pts[pts.length - 1]].concat(pts, [pts[0], pts[1]]);
}

function makeDatasets(p) {
  const sets = [
    {data: [{x: meanLikelihood[p], y: meanImpact[p]}], pointRadius: 4.5, pointBackgroundColor: '#fff', pointBorderColor: '#000', pointBorderWidth: 1.6, showLine: false, order: 1, clip: false},
    {data: [{x: lowLikelihood[p], y: meanImpact[p]}, {x: highLikelihood[p], y: meanImpact[p]}], showLine: true, borderColor: '#000', borderWidth: 2, pointRadius: 0, order: 2},
    {data: [{x: meanLikelihood[p], y: lowImpact[p]}, {x: meanLikelihood[p], y: highImpact[p]}], showLine: true, borderColor: '#000', borderWidth: 2, pointRadius: 0, order: 2},
    {data: toPoints(responses[p]), pointRadius: 2.6, pointBackgroundColor: 'transparent', pointBorderColor: 'rgba(0,0,0,.36)', pointBorderWidth: 1.1, showLine: false, order: 3, clip: 3}
  ];
  [band90, band75, band50, band25].forEach(function (band, level) {
    band[p].forEach(function (ring) {
      sets.push({data: toRing(ring), showLine: true, fill: 'shape', tension: 0.4, backgroundColor: bandFills[level], borderWidth: 0, pointRadius: 0, order: 10 - level});
    });
  });
  return sets;
}

// The plot box has to stay exactly where it is placed, whatever the labels ask for
function noMargins(axis) {
  axis.paddingLeft = 0;
  axis.paddingRight = 0;
  axis.paddingTop = 0;
  axis.paddingBottom = 0;
}

categories.forEach(function (name, p) {
  const col = p % 4, row = Math.floor(p / 4);
  const left = plotLefts[col], top = plotTops[row];
  const showY = col === 0;
  const showX = p + 4 >= categories.length;
  const padLeft = showY ? 91 : 10, padTop = 4, padRight = 6, padBottom = 50;

  addDiv('title', name, left - 6, top - 70, plotW + 12, 26);
  addDiv('strip', stripLabels[p], left, top - 34, plotW, 35);
  addDiv('frame', '', left, top, plotW, plotH + 1);

  const canvas = document.createElement('canvas');
  canvas.width = padLeft + plotW + padRight;
  canvas.height = padTop + plotH + padBottom;
  canvas.style.left = (left - padLeft) + 'px';
  canvas.style.top = (top - padTop) + 'px';
  page.appendChild(canvas);

  const tickFont = {family: 'Lato', size: 18};
  new Chart(canvas, {
    type: 'scatter',
    data: {datasets: makeDatasets(p)},
    options: {
      responsive: false,
      animation: false,
      devicePixelRatio: 1,
      layout: {padding: {top: padTop, right: padRight, bottom: 0, left: 0}},
      plugins: {legend: {display: false}, tooltip: {enabled: false}},
      scales: {
        x: {
          type: 'linear', min: -2.3, max: 102.3,
          afterBuildTicks: function (axis) { axis.ticks = tickValues.map(function (v) { return {value: v}; }); },
          afterFit: function (axis) { axis.height = padBottom; noMargins(axis); },
          border: {display: false},
          grid: {color: '#f0f0f0', drawTicks: false, lineWidth: function (c) { return c.tick && c.tick.value % 20 === 0 ? 1.7 : 1; }},
          ticks: {autoSkip: false, minRotation: 45, maxRotation: 45, padding: 4, labelOffset: 4, color: '#303030', font: tickFont,
            callback: function (v) { return showX && v % 20 === 0 ? v : ''; }}
        },
        y: {
          type: 'linear', min: 0, max: 100,
          afterBuildTicks: function (axis) { axis.ticks = tickValues.map(function (v) { return {value: v}; }); },
          afterFit: function (axis) { axis.width = padLeft; noMargins(axis); },
          border: {display: false},
          grid: {color: '#f0f0f0', drawTicks: false, lineWidth: function (c) { return c.tick && c.tick.value % 20 === 0 ? 1.7 : 1; }},
          ticks: {display: showY, autoSkip: false, padding: 14, color: '#303030', font: tickFont,
            callback: function (v) { return v % 20 === 0 ? v : ''; }}
        }
      }
    }
  });
});

addDiv('axis', 'Likelihood', 552, 1357, 200, 28);
addDiv('axis', 'Impact', -78, 661, 200, 28).style.transform = 'rotate(-90deg)';

addDiv('legend', 'Most probable X% range of raw responses:', 352, 1410, 600, 26).style.textAlign = 'center';
const swatchLefts = [460, 549, 636, 725];
legendLabels.forEach(function (label, i) {
  addDiv('swatch', '', swatchLefts[i], 1447).style.background = legendColors[i];
  addDiv('legend', label, swatchLefts[i] + 38, 1450);
});
</script>
</body>
</html>
